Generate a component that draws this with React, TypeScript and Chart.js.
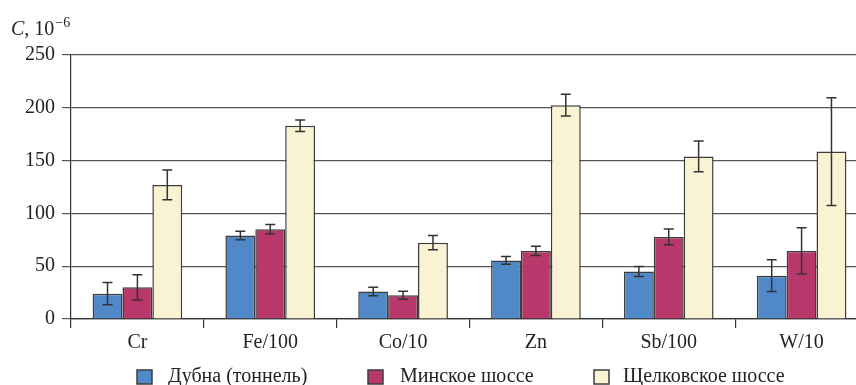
import React, { useEffect, useRef } from "react";
import { Chart, registerables } from "chart.js";

Chart.register(...registerables);

const categories = ["Cr", "Fe/100", "Co/10", "Zn", "Sb/100", "W/10"];
const seriesNames = ["Дубна (тоннель)", "Минское шоссе", "Щелковское шоссе"];
const dubna = [24, 79, 26, 55.5, 45, 41];
const dubnaErr = [10.5, 4, 4, 3.6, 4.7, 15];
const minsk = [30, 85, 22.4, 64.5, 77.7, 64.5];
const minskErr = [12, 4.5, 3.8, 4.4, 7.5, 22];
const shchelk = [127, 183, 72.3, 202.5, 154, 158.5];
const shchelkErr = [14, 5.5, 6.7, 10.3, 14.5, 51];
const yTicks = [0, 50, 100, 150, 200, 250];

const colors = ["#5188c8", "#b9386c", "#f9f3d4"];
const edge = "#3c3c3c";
const FONT = "'Liberation Serif', 'Times New Roman', serif";

const errorSets = [dubnaErr, minskErr, shchelkErr];

const errorBarPlugin = {
  id: "errorBars",
  afterDatasetsDraw(chart: any) {
    const ctx = chart.ctx;
    const yScale = chart.scales.y;
    ctx.save();
    ctx.strokeStyle = "#333";
    ctx.lineWidth = 1.5;
    chart.data.datasets.forEach((ds: any, i: number) => {
      const meta = chart.getDatasetMeta(i);
      meta.data.forEach((el: any, j: number) => {
        const v = ds.data[j];
        const e = errorSets[i][j];
        const x = el.x;
        const yt = yScale.getPixelForValue(v + e);
        const yb = yScale.getPixelForValue(v - e);
        ctx.beginPath();
        ctx.moveTo(x, yt);
        ctx.lineTo(x, yb);
        ctx.moveTo(x - 5, yt);
        ctx.lineTo(x + 5, yt);
        ctx.moveTo(x - 5, yb);
        ctx.lineTo(x + 5, yb);
        ctx.stroke();
      });
    });
    ctx.restore();
  },
};

const annotationPlugin = {
  id: "annotations",
  afterDraw(chart: any) {
    const ctx = chart.ctx;
    ctx.save();
    ctx.fillStyle = "#222";
    ctx.textBaseline = "alphabetic";
    ctx.textAlign = "left";
    // axis title
    ctx.font = `italic 20px ${FONT}`;
    ctx.fillText("C", 11, 35);
    let x = 11 + ctx.measureText("C").width;
    ctx.font = `20px ${FONT}`;
    ctx.fillText(", 10", x, 35);
    x += ctx.measureText(", 10").width + 1;
    ctx.font = `14px ${FONT}`;
    ctx.fillText("\u22126", x, 27);
    // legend
    const sq = [137, 368, 594];
    const tx = [168, 400, 623];
    ctx.font = `20px ${FONT}`;
    ctx.textBaseline = "middle";
    for (let i = 0; i < 3; i++) {
      ctx.fillStyle = colors[i];
      ctx.fillRect(sq[i], 370, 15, 14);
      ctx.strokeStyle = edge;
      ctx.lineWidth = 1.5;
      ctx.strokeRect(sq[i], 370, 15, 14);
      ctx.fillStyle = "#222";
      ctx.fillText(seriesNames[i], tx[i], 377);
    }
    ctx.restore();
  },
};

export default function App() {
  const ref = useRef<HTMLCanvasElement>(null);
  useEffect(() => {
    document.body.style.overflow = "hidden";
    document.documentElement.style.overflow = "hidden";
    const datasets = [dubna, minsk, shchelk].map((d, i) => ({
      label: seriesNames[i],
      data: d,
      backgroundColor: colors[i],
      borderColor: edge,
      borderWidth: 1.5,
      categoryPercentage: 0.675,
      barPercentage: 1,
    }));
    const chart = new Chart(ref.current as HTMLCanvasElement, {
      type: "bar",
      data: { labels: categories, datasets },
      options: {
        animation: false,
        responsive: false,
        layout: { padding: { left: 0, top: 55, right: 0, bottom: 36 } },
        plugins: { legend: { display: false }, tooltip: { enabled: false } },
        scales: {
          x: {
            grid: {
              offset: true,
              drawOnChartArea: false,
              drawTicks: true,
              tickLength: 9,
              color: "#333",
              lineWidth: 1.2,
            },
            border: { display: true, color: "#333", width: 1.2 },
            ticks: {
              font: { family: FONT, size: 20 },
              color: "#222",
              padding: 3,
              maxRotation: 0,
            },
            afterFit: (s: any) => {
              s.height = 30;
            },
          },
          y: {
            min: 0,
            max: 250,
            afterBuildTicks: (s: any) => {
              s.ticks = yTicks.map((v) => ({ value: v }));
            },
            grid: {
              color: "#555",
              lineWidth: 1.2,
              drawTicks: true,
              tickLength: 9,
            },
            border: { display: true, color: "#333", width: 1.2 },
            ticks: {
              font: { family: FONT, size: 20 },
              color: "#222",
              padding: 7,
            },
            afterFit: (s: any) => {
              s.width = 71;
            },
          },
        },
      },
      plugins: [errorBarPlugin, annotationPlugin],
    });
    return () => chart.destroy();
  }, []);
  return (
    <div style={{ position: "absolute", left: 0, top: 0, width: 868, height: 385, background: "#fff" }}>
      <canvas ref={ref} width={868} height={385} />
    </div>
  );
}
